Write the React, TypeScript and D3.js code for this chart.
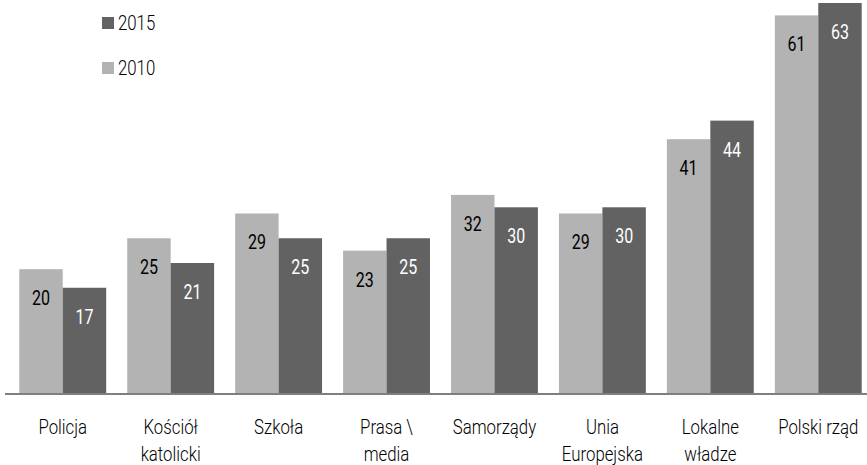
import { useEffect, useRef } from 'react'
import { select, scaleBand, scaleLinear } from 'd3'

const categories = [
  ['Policja'],
  ['Kościół', 'katolicki'],
  ['Szkoła'],
  ['Prasa \\', 'media'],
  ['Samorządy'],
  ['Unia', 'Europejska'],
  ['Lokalne', 'władze'],
  ['Polski rząd'],
]
const values2010 = [20, 25, 29, 23, 32, 29, 41, 61]
const values2015 = [17, 21, 25, 25, 30, 30, 44, 63]
const seriesNames = ['2010', '2015']

const LIGHT = '#b3b3b3'
const DARK = '#626262'
const FONT = 'Roboto, sans-serif'
const SQUEEZE = 0.84 // fake a condensed face

const App = () => {
  const svgRef = useRef<SVGSVGElement>(null)

  useEffect(() => {
    const width = 867
    const height = 465
    const baseline = 393
    const svg = select(svgRef.current)
    svg.selectAll('*').remove()
    svg.attr('width', width).attr('height', height).style('display', 'block')

    const x = scaleBand<number>()
      .domain(categories.map((_, i) => i))
      .range([8.5, 872.5])
      .paddingInner(0.195)
      .paddingOuter(0.1)
    const inner = scaleBand<string>().domain(seriesNames).range([0, x.bandwidth()])
    const y = scaleLinear().domain([0, 63]).range([baseline, 3])

    const series = [
      { name: '2010', values: values2010, fill: LIGHT, text: '#000' },
      { name: '2015', values: values2015, fill: DARK, text: '#fff' },
    ]

    series.forEach((s) => {
      const g = svg.append('g')
      g.selectAll('rect')
        .data(s.values)
        .join('rect')
        .attr('x', (_, i) => x(i)! + inner(s.name)!)
        .attr('y', (d) => y(d))
        .attr('width', inner.bandwidth())
        .attr('height', (d) => baseline - y(d))
        .attr('fill', s.fill)
      g.selectAll('text')
        .data(s.values)
        .join('text')
        .attr(
          'transform',
          (d, i) =>
            `translate(${x(i)! + inner(s.name)! + inner.bandwidth() / 2},${y(d) + 36}) scale(0.8,1)`
        )
        .attr('text-anchor', 'middle')
        .attr('font-family', FONT)
        .attr('font-size', 20)
        .attr('fill', s.text)
        .text((d) => d)
    })

    // axis line
    svg.append('line')
      .attr('x1', 5)
      .attr('x2', width)
      .attr('y1', baseline + 1)
      .attr('y2', baseline + 1)
      .attr('stroke', '#7f7f7f')
      .attr('stroke-width', 2)

    // category labels
    const labels = svg.append('g')
    categories.forEach((lines, i) => {
      lines.forEach((line, j) => {
        labels.append('text')
          .attr('transform', `translate(${x(i)! + x.bandwidth() / 2},${434 + j * 27}) scale(${SQUEEZE},1)`)
          .attr('text-anchor', 'middle')
          .attr('font-family', FONT)
          .attr('font-weight', 300)
          .attr('font-size', 20)
          .attr('fill', '#000')
          .text(line)
      })
    })

    // legend
    const legend = [
      { name: '2015', fill: DARK, y: 17 },
      { name: '2010', fill: LIGHT, y: 62 },
    ]
    legend.forEach((l) => {
      svg.append('rect').attr('x', 102).attr('y', l.y).attr('width', 12).attr('height', 12).attr('fill', l.fill)
      svg.append('text')
        .attr('transform', `translate(118,${l.y + 13}) scale(${SQUEEZE},1)`)
        .attr('font-family', FONT)
        .attr('font-weight', 300)
        .attr('font-size', 20)
        .attr('fill', '#000')
        .text(l.name)
    })
  }, [])

  return <svg ref={svgRef} style={{ position: 'absolute', left: 0, top: 0 }} />
}

export default App
